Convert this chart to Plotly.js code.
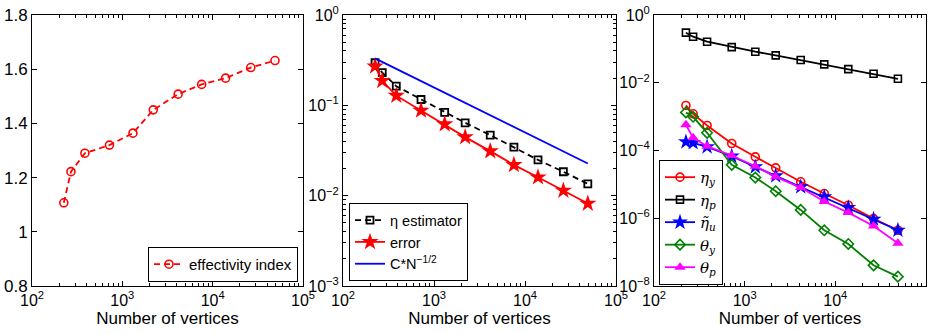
<!DOCTYPE html>
<html>
<head>
<meta charset="utf-8">
<script src="https://cdn.plot.ly/plotly-3.0.1.min.js"></script>
<style>
  html, body { margin: 0; padding: 0; background: #fff; }
  #chart { width: 933px; height: 333px; }
</style>
</head>
<body>
<div id="chart"></div>
<script>
// Number of mesh vertices at each adaptive refinement step
const vertices = [225, 270, 385, 720, 1310, 2200, 4150, 7550, 13900, 26400, 49000];

// Left panel: effectivity index of the estimator
const effectivity = [1.107, 1.222, 1.290, 1.320, 1.364, 1.450, 1.508, 1.544, 1.567, 1.606, 1.632];

// Middle panel: estimator and true error
const estimator = [0.296, 0.230, 0.163, 0.116, 0.0834, 0.0641, 0.0468, 0.0344, 0.0249, 0.0184, 0.0135];
const errorVals = [0.270, 0.187, 0.128, 0.0878, 0.0619, 0.0445, 0.0311, 0.0219, 0.0160, 0.0114, 0.00818];
// Reference slope line C*N^(-1/2), end points
const refN = [225, 49000];
const refVals = [0.331, 0.0227];

// Right panel: estimator contributions
const etaY = [2.14e-3, 1.21e-3, 5.48e-4, 1.61e-4, 6.50e-5, 3.08e-5, 1.19e-5, 5.36e-6, 2.42e-6, 9.77e-7, 4.42e-7];
const etaP = [0.301, 0.229, 0.163, 0.113, 0.0824, 0.0642, 0.0468, 0.0348, 0.0253, 0.0184, 0.0131];
const etaU = [1.80e-4, 1.69e-4, 1.28e-4, 6.80e-5, 3.29e-5, 1.78e-5, 8.43e-6, 4.27e-6, 2.07e-6, 9.34e-7, 4.42e-7];
const thetaY = [1.33e-3, 9.89e-4, 3.33e-4, 3.77e-5, 1.59e-5, 6.28e-6, 1.76e-6, 4.42e-7, 1.74e-7, 4.08e-8, 1.89e-8];
const thetaP = [5.74e-4, 2.37e-4, 1.34e-4, 7.11e-5, 3.44e-5, 1.67e-5, 8.06e-6, 3.11e-6, 1.47e-6, 5.93e-7, 1.82e-7];

// Tick labels
const xTickVals = [1e2, 1e3, 1e4, 1e5];
const xTickText = ['10<sup>2</sup>', '10<sup>3</sup>', '10<sup>4</sup>', '10<sup>5</sup>'];
const y2TickVals = [1e-3, 1e-2, 1e-1, 1];
const y2TickText = ['10<sup>\u22123</sup>', '10<sup>\u22122</sup>', '10<sup>\u22121</sup>', '10<sup>0</sup>'];
const y3TickVals = [1e-8, 1e-6, 1e-4, 1e-2, 1];
const y3TickText = ['10<sup>\u22128</sup>', '10<sup>\u22126</sup>', '10<sup>\u22124</sup>', '10<sup>\u22122</sup>', '10<sup>0</sup>'];

// minor tick positions 2..9 within each decade
function minorTicks(lo, hi) {
  const out = [];
  for (let d = lo; d < hi; d++) for (let k = 2; k <= 9; k++) out.push(k * Math.pow(10, d));
  return out;
}

const RED = 'rgb(255,0,0)', BLUE = 'rgb(0,0,255)', GREEN = 'rgb(0,128,0)', MAG = 'rgb(255,0,255)';
const DASH = '6px,4px';
const LW = 1.8;

const traces = [
  { x: vertices, y: effectivity, xaxis: 'x', yaxis: 'y', legend: 'legend',
    name: 'effectivity index', mode: 'lines+markers',
    line: { color: RED, width: LW, dash: DASH },
    marker: { symbol: 'circle-open', size: 8, color: RED, line: { width: 1.6 } } },

  { x: vertices, y: estimator, xaxis: 'x2', yaxis: 'y2', legend: 'legend2',
    name: '\u03b7 estimator', mode: 'lines+markers',
    line: { color: 'black', width: LW, dash: DASH },
    marker: { symbol: 'square-open', size: 7, color: 'black', line: { width: 1.8 } } },
  { x: vertices, y: errorVals, xaxis: 'x2', yaxis: 'y2', legend: 'legend2',
    name: 'error', mode: 'lines+markers',
    line: { color: RED, width: LW },
    marker: { symbol: 'star', size: 13, color: RED } },
  { x: refN, y: refVals, xaxis: 'x2', yaxis: 'y2', legend: 'legend2',
    name: 'C*N<sup>\u22121/2</sup>', mode: 'lines',
    line: { color: BLUE, width: LW } },

  { x: vertices, y: etaY, xaxis: 'x3', yaxis: 'y3', legend: 'legend3',
    name: '<i>\u03b7</i><sub><i>y</i></sub>', mode: 'lines+markers',
    line: { color: RED, width: LW },
    marker: { symbol: 'circle-open', size: 8, color: RED, line: { width: 1.6 } } },
  { x: vertices, y: etaP, xaxis: 'x3', yaxis: 'y3', legend: 'legend3',
    name: '<i>\u03b7</i><sub><i>p</i></sub>', mode: 'lines+markers',
    line: { color: 'black', width: LW },
    marker: { symbol: 'square-open', size: 7, color: 'black', line: { width: 1.6 } } },
  { x: vertices, y: etaU, xaxis: 'x3', yaxis: 'y3', legend: 'legend3',
    name: '<i>\u03b7\u0303</i><sub><i>u</i></sub>', mode: 'lines+markers',
    line: { color: BLUE, width: LW },
    marker: { symbol: 'star', size: 12, color: BLUE } },
  { x: vertices, y: thetaY, xaxis: 'x3', yaxis: 'y3', legend: 'legend3',
    name: '<i>\u03b8</i><sub><i>y</i></sub>', mode: 'lines+markers',
    line: { color: GREEN, width: LW },
    marker: { symbol: 'diamond-open', size: 8, color: GREEN, line: { width: 1.6 } } },
  { x: vertices, y: thetaP, xaxis: 'x3', yaxis: 'y3', legend: 'legend3',
    name: '<i>\u03b8</i><sub><i>p</i></sub>', mode: 'lines+markers',
    line: { color: MAG, width: LW },
    marker: { symbol: 'triangle-up', size: 10, color: MAG } }
];

const W = 933;
const axisBase = {
  showline: true, linecolor: 'black', linewidth: 1, mirror: 'ticks',
  ticks: 'inside', ticklen: 5, tickcolor: 'black', tickwidth: 1,
  showgrid: false, zeroline: false,
  tickfont: { size: 16, color: 'black' }
};
function xAxis(lo, hi, anchor) {
  return Object.assign({}, axisBase, {
    type: 'log', range: [2, 5], domain: [lo / W, hi / W], anchor: anchor,
    tickmode: 'array', tickvals: xTickVals, ticktext: xTickText,
    minor: { tickmode: 'array', tickvals: minorTicks(2, 5), ticks: 'inside', ticklen: 3, tickcolor: 'black', showgrid: false },
    title: { text: 'Number of vertices', font: { size: 17, color: 'black' }, standoff: 2 }
  });
}

const legendBase = {
  bgcolor: 'white', bordercolor: 'black', borderwidth: 1,
  font: { size: 15, color: 'black' }, tracegroupgap: 0, itemclick: false
};

const layout = {
  width: 933, height: 333,
  margin: { l: 0, r: 0, t: 15, b: 47 },
  paper_bgcolor: 'white', plot_bgcolor: 'white',
  font: { family: 'Liberation Sans, Arial, Helvetica, sans-serif', color: 'black' },
  showlegend: true,
  xaxis: xAxis(32, 303, 'y'),
  xaxis2: xAxis(343, 616, 'y2'),
  xaxis3: xAxis(654, 926, 'y3'),
  yaxis: Object.assign({}, axisBase, {
    range: [0.8, 1.8], dtick: 0.2, tick0: 0.8, anchor: 'x', domain: [0, 1],
    tickfont: { size: 17, color: 'black' }
  }),
  yaxis2: Object.assign({}, axisBase, {
    type: 'log', range: [-3, 0], anchor: 'x2', domain: [0, 1],
    tickmode: 'array', tickvals: y2TickVals, ticktext: y2TickText,
    minor: { tickmode: 'array', tickvals: minorTicks(-3, 0), ticks: 'inside', ticklen: 3, tickcolor: 'black', showgrid: false }
  }),
  yaxis3: Object.assign({}, axisBase, {
    type: 'log', range: [-8, 0], anchor: 'x3', domain: [0, 1],
    tickmode: 'array', tickvals: y3TickVals, ticktext: y3TickText
  }),
  legend: Object.assign({}, legendBase, { x: 298 / W, xanchor: 'right', y: 0.015, yanchor: 'bottom' }),
  legend2: Object.assign({}, legendBase, {
    x: 349 / W, xanchor: 'left', y: 0.018, yanchor: 'bottom', font: { size: 14.5, color: 'black' }
  }),
  legend3: Object.assign({}, legendBase, {
    x: 659 / W, xanchor: 'left', y: 0.004, yanchor: 'bottom',
    font: { size: 15, color: 'black', family: 'DejaVu Serif, Liberation Serif, serif' }
  })
};

Plotly.newPlot('chart', traces, layout, { staticPlot: true, displayModeBar: false });
</script>
</body>
</html>
